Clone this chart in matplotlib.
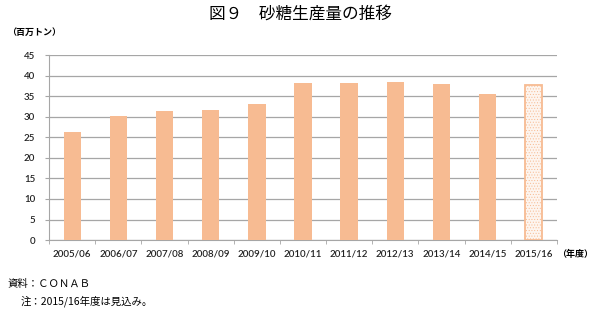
import numpy as np
import matplotlib
matplotlib.use('Agg')
import matplotlib.pyplot as plt

plt.rcParams['font.family'] = ['Noto Sans CJK JP', 'DejaVu Sans']
plt.rcParams['hatch.color'] = '#fae3d3'
plt.rcParams['hatch.linewidth'] = 0.4

years = ['2005/06', '2006/07', '2007/08', '2008/09', '2009/10', '2010/11',
         '2011/12', '2012/13', '2013/14', '2014/15', '2015/16']
production = [26.4, 30.2, 31.3, 31.6, 33.1, 38.2, 38.3, 38.4, 37.9, 35.5, 37.7]
estimate_idx = 10  # last season is a forecast

bar_color = '#f7bb92'

fig = plt.figure(figsize=(6.0, 3.11), dpi=100)
ax = fig.add_axes([0.082, 0.228, 0.846, 0.595])

x = np.arange(len(years))
for i, v in enumerate(production):
    if i == estimate_idx:
        ax.bar(x[i], v, width=0.36, facecolor='#fdf5ef', edgecolor=bar_color,
               linewidth=1.3, hatch='......', zorder=3)
    else:
        ax.bar(x[i], v, width=0.38, color=bar_color, zorder=3)

ax.set_xlim(-0.5, len(years) - 0.5)
ax.set_ylim(0, 45)
ax.set_yticks(np.arange(0, 46, 5))
ax.yaxis.grid(True, color='#a6a6a6', linewidth=0.9, zorder=0)

# category ticks sit between the bars
ax.set_xticks(x)
ax.set_xticklabels(years)
ax.set_xticks(np.arange(-0.5, len(years)), minor=True)
ax.tick_params(axis='x', which='major', length=0, pad=7)
ax.tick_params(axis='x', which='minor', length=3, color='#a6a6a6', direction='out')
ax.tick_params(axis='y', length=3, color='#a6a6a6', pad=7)
for lab in ax.get_xticklabels() + ax.get_yticklabels():
    lab.set_family(['Lato', 'DejaVu Sans'])
    lab.set_fontsize(7)
    lab.set_fontweight('semibold')
    lab.set_color('#222222')

for s in ['top', 'right']:
    ax.spines[s].set_visible(False)
ax.spines['left'].set_color('#a6a6a6')
ax.spines['bottom'].set_color('#a6a6a6')

fig.text(0.5, 0.955, '図９　砂糖生産量の推移', ha='center', va='center', fontsize=12)
fig.text(0.012, 0.895, '（百万トン）', ha='left', va='center', fontsize=6.5,
         fontweight='bold')
fig.text(0.928, 0.183, '（年度）', ha='left', va='center', fontsize=6.5,
         fontweight='bold')
fig.text(0.012, 0.088, '資料：ＣＯＮＡＢ', ha='left', va='center', fontsize=7.5)
fig.text(0.035, 0.03, '注：2015/16年度は見込み。', ha='left', va='center', fontsize=7.5)

fig.savefig('out.png', dpi=100)
